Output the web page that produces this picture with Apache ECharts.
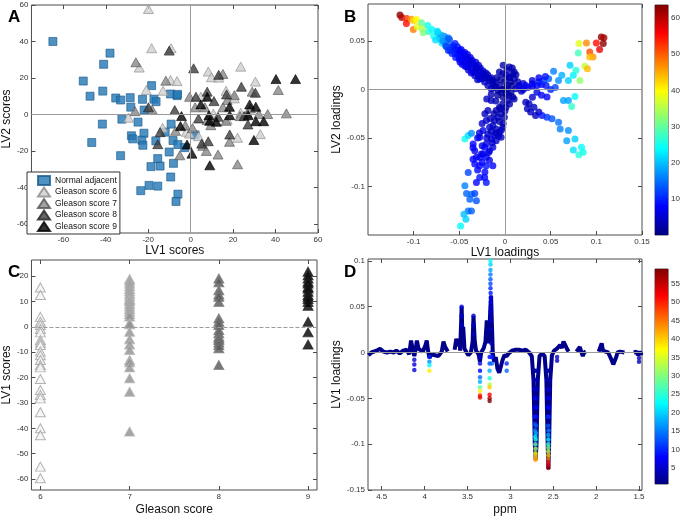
<!DOCTYPE html>
<html><head><meta charset="utf-8">
<script src="https://cdn.jsdelivr.net/npm/echarts@6/dist/echarts.min.js"></script>
<style>html,body{margin:0;padding:0;background:#fff}#c{width:683px;height:519px}</style>
</head><body><div id="c"></div><script>
// ---------- Panel A : LV1 vs LV2 scores ----------
const normalAdjacent = [[-64.9,40],[-38,33.6],[-41,27.5],[-50.6,18.3],[-41.4,12.8],[-47.4,10],[-35.3,9],[-33,7.9],[-28.5,9.2],[-22.7,8.3],[-18.4,15.8],[-17.3,8.4],[-16.3,7],[-28.2,4],[-21.9,2.4],[-9.5,11.2],[-6.4,10.3],[-6.2,11],[-32.4,-2.6],[-24.8,-4.2],[-41.6,-5.3],[-9.2,-5.3],[-27.9,-11.7],[-27.3,-13.4],[-22,-10.3],[-23,-14.1],[-22.5,-16.9],[-16.4,-14.5],[-12,-9.7],[-8.3,-14.3],[-6,-16.5],[2.1,-11.2],[-2.8,-18.2],[-10.1,-20.6],[-33,-22.6],[-46.6,-15.4],[-15.5,-24.2],[-14.4,-28.3],[-18.7,-28.6],[-8.1,-26.8],[-9.4,-34.3],[-19.6,-38.9],[-15.5,-39.3],[-23.5,-41.8],[-6,-43.7],[-6.9,-47.7]];
const gleason6A = [[-19.9,57.8],[-18.4,36.3],[-9.2,36.3],[-24.2,25.7],[-20.9,13.4],[-13,13],[-9.5,18.9],[-6.4,18.3],[-29.3,-1.8],[-13.2,-7.3],[-2,-9.5],[8.3,23.5],[9.8,20.4],[13.2,20.2],[23.6,26.2],[30.5,18],[16.7,13],[20.6,8.8],[10.7,0.5],[17.2,-2.8],[22.1,-12.8],[32.8,-10.8],[3.7,-11.9],[4.8,9.7],[23.6,0.9],[-0.5,-10.5]];
const gleason7A = [[-25.8,28.6],[-11.7,18.5],[-18.1,2.6],[-26.2,1.8],[-7.1,-9],[-5.1,-22.4],[0.9,-7.5],[-0.5,9.7],[2.1,3.9],[6.7,3.9],[7.8,-3.1],[5.7,-17.2],[7.4,-20],[12.9,-22],[22.1,-27.3],[15.2,22.2],[20.6,10.6],[17.2,7.9],[15.2,3.9],[23.3,-0.9],[26.7,0.6],[28.2,3.3],[32.1,0.2],[36.3,0.2],[41.3,13.4],[45.1,0.6],[18.3,-15],[9.5,-5.9],[16.7,-3.5],[29,12.5],[-2.5,-6]];
const gleason8A = [[-10.1,35],[1.4,25.3],[13.2,21.7],[7.8,12.5],[23.9,15.2],[30.5,11.9],[16.9,11],[-19.9,3.9],[-7.5,2.4],[-14.4,-9.7],[-15.5,-16.3],[5.2,-16],[8.3,-14.7],[3.7,-2.2],[18.4,-11],[27,-5.5],[25.2,-0.9],[12.9,-1.3],[11,7.3],[2.5,9.7]];
const gleason9A = [[40.2,19.4],[49.4,19.4],[7.8,9.7],[4.8,5.5],[27.8,5.5],[30.7,4.2],[18.3,4.2],[18.4,-0.4],[8.6,-0.4],[12.1,-4],[9,-3.5],[27.1,-0.4],[30.7,-3.7],[34.4,-3.7],[29.8,-14],[9,-27.9],[0.6,-21.5],[-1.7,-16.5],[-4.3,-0.9],[-4.8,-6.4]];
const ticksA = [-60,-40,-20,0,20,40,60];

// ---------- Panel B : LV1 vs LV2 loadings [x, y, colour value] ----------
const loadingsB = [
[-0.115,0.0766,63],[-0.113,0.0741,60],[-0.1076,0.0731,52],[-0.108,0.068,55],[-0.1025,0.0724,46],[-0.0996,0.0707,42],[-0.0968,0.0721,40],[-0.1004,0.0617,48],[-0.096,0.0645,38],[-0.0914,0.0686,30],[-0.0906,0.0628,35],[-0.0896,0.0583,32],[-0.0845,0.0659,25],[-0.0835,0.0593,27],[-0.0799,0.0617,24],[-0.078,0.0548,25],[-0.0737,0.0586,20],[-0.0719,0.0524,19],[-0.0691,0.0479,22],[-0.0665,0.0548,17],[-0.0637,0.049,15],[-0.0608,0.0514,13],[-0.0583,0.0438,12],[-0.0547,0.0472,10],[-0.0529,0.0403,9],
[-0.068,0.05,17],[-0.065,0.045,14],[-0.062,0.053,14],[-0.07,0.056,19],[-0.076,0.051,22],[-0.074,0.06,22],
[-0.0493,0.0403,8],[-0.0457,0.0369,7],[-0.0475,0.0317,7],[-0.0421,0.0334,7],[-0.0385,0.03,6],[-0.0403,0.0248,6],[-0.0349,0.0266,6],[-0.0313,0.0231,6],[-0.0331,0.0179,5],[-0.0277,0.0197,5],[-0.0241,0.0162,5],[-0.0259,0.011,5],[-0.0205,0.0121,4],[-0.0169,0.0093,4],[-0.0187,0.0041,4],[-0.0133,0.0059,4],[-0.0097,0.0024,3],[-0.0061,0.0041,3],[-0.0079,-0.001,3],[-0.0511,0.0352,8],[-0.045,0.0283,7],[-0.0367,0.0214,6],[-0.0295,0.0145,5],[-0.0223,0.0076,4],[-0.0151,0.0007,4],[-0.06,0.0403,10],[-0.0547,0.0369,9],[-0.0493,0.0283,7],[-0.0421,0.0231,6],[-0.0349,0.0179,6],[-0.0277,0.011,5],
[-0.057,0.045,10],[-0.055,0.041,9],[-0.052,0.044,9],[-0.05,0.037,8],[-0.048,0.041,8],[-0.046,0.034,7],[-0.044,0.038,7],[-0.043,0.03,7],[-0.041,0.036,7],[-0.039,0.027,6],[-0.038,0.033,6],[-0.036,0.03,6],[-0.034,0.024,6],[-0.032,0.028,6],[-0.031,0.021,5],[-0.029,0.025,5],[-0.027,0.022,5],[-0.026,0.015,5],[-0.024,0.019,5],[-0.022,0.013,4],[-0.021,0.017,4],[-0.019,0.015,4],[-0.017,0.011,4],[-0.015,0.012,4],[-0.013,0.009,3],[-0.011,0.007,3],[-0.009,0.012,3],[-0.064,0.044,12],[-0.062,0.04,11],[-0.058,0.037,10],[-0.054,0.033,9],[-0.05,0.031,8],[-0.047,0.026,7],[-0.044,0.024,7],[-0.04,0.02,6],[-0.037,0.017,6],[-0.033,0.014,5],[-0.03,0.01,5],
[-0.0061,0.0179,3],[-0.0025,0.0162,3],[0.0011,0.0145,3],[0.0047,0.0128,3],[0.0083,0.0162,3],[0.0101,0.011,3],[0.0065,0.0076,2],[0.0029,0.0041,2],[-0.0007,0.0007,2],[-0.0043,-0.0028,2],[0.0011,-0.0045,2],[0.0065,-0.0028,2],[0.0119,0.0007,3],[0.0155,0.0041,4],[0.0083,-0.0079,3],[0.0029,-0.0114,3],[-0.0025,-0.0148,3],[-0.0061,-0.0183,3],[-0.0097,-0.0217,3],[-0.0043,-0.0252,3],[-0.0079,-0.0286,4],[-0.0115,-0.0321,4],[-0.0133,-0.0372,4],[-0.0097,-0.0407,4],[-0.0061,-0.0441,4],[-0.0115,-0.0476,5],[-0.0151,-0.051,5],[-0.0097,-0.0528,5],[-0.0133,-0.0597,6],[-0.0169,-0.0631,6],[-0.0205,-0.0562,6],[-0.0187,-0.0459,5],[-0.0169,-0.039,5],[-0.0241,-0.0666,7],[-0.0277,-0.07,7],
[-0.0151,-0.0114,4],[-0.0187,-0.0217,4],[-0.0205,-0.0321,5],[-0.0241,-0.0424,6],[-0.0277,-0.0493,6],[0.0011,-0.0183,3],[-0.0007,-0.0286,3],[-0.0025,-0.039,4],[-0.0043,-0.0493,4],[0.0047,0.0231,3],[0.0101,0.0179,3],
[-0.005,0.01,2],[0.0,0.008,2],[0.005,0.012,3],[-0.003,0.0,2],[0.003,0.001,2],[0.008,0.004,2],[-0.008,-0.006,2],[-0.002,-0.008,2],[0.004,-0.006,2],[-0.01,-0.012,3],[-0.005,-0.02,3],[0.0,-0.022,3],[-0.012,-0.025,3],[-0.006,-0.033,3],[-0.002,-0.035,3],[-0.016,-0.03,4],[-0.01,-0.045,4],[-0.004,-0.042,4],[-0.015,-0.043,4],[-0.014,-0.055,5],[-0.007,-0.048,4],[-0.02,-0.05,5],[-0.018,-0.065,6],[-0.025,-0.058,6],[0.002,0.02,3],[0.008,0.022,3],[-0.002,0.025,3],[0.012,0.015,3],[0.014,0.008,3],[-0.012,0.002,3],[-0.015,-0.005,3],[-0.02,-0.01,4],[-0.022,-0.025,4],[-0.025,-0.035,5],[-0.028,-0.045,6],[0.005,-0.015,3],[0.01,-0.01,3],[0.018,-0.002,4],[0.02,0.006,5],
[0.02,0.0,5],[0.025,0.002,6],[0.03,0.003,6],[0.035,0.004,7],[0.04,0.005,8],[0.045,0.004,9],[0.035,-0.003,6],[0.04,-0.006,7],[0.05,0.0,10],[0.055,0.002,12],[0.03,-0.008,5],
[0.0155,0.0024,6],[0.0227,0.0041,7],[0.0299,0.0059,8],[0.0371,0.0076,9],[0.0424,0.0093,11],[0.0478,0.011,14],[0.0532,0.0186,16],[0.0586,0.0093,17],[0.0622,0.0145,19],[0.0694,0.0093,21],[0.0712,0.0248,21],[0.0748,0.0145,23],[0.0777,0.0197,26],[0.0802,0.0376,28],[0.082,0.0093,33],[0.0874,0.0238,36],[0.0903,0.0214,44],[0.0809,0.0472,38],[0.0892,0.0479,47],[0.0928,0.0386,51],[0.0964,0.0334,46],[0.0928,0.0334,44],[0.1,0.0479,55],[0.1036,0.041,57],[0.1054,0.0541,62],[0.1076,0.0472,63],[0.1083,0.0531,61],
[0.064,-0.0114,18],[0.0694,-0.0114,18],[0.0766,-0.0072,24],[0.073,-0.0176,27],[0.0299,0.0093,6],[0.0371,0.0121,7],[0.0442,0.0134,9],[0.046,-0.0079,8],
[0.0263,-0.0148,4],[0.0317,-0.0183,4],[0.0371,-0.0234,4],[0.0335,-0.0269,4],[0.0281,-0.0234,4],[0.0245,-0.02,4],[0.0227,-0.0131,4],
[0.0406,-0.0269,9],[0.046,-0.0286,11],[0.0514,-0.0303,13],[0.0586,-0.0338,15],[0.0604,-0.0407,16],[0.0694,-0.0424,17],[0.0676,-0.0528,18],[0.0766,-0.051,21],[0.0748,-0.0624,22],[0.0838,-0.0597,24],[0.0856,-0.0648,25],[0.0809,-0.0672,26],
[-0.0439,-0.051,25],[-0.0403,-0.0476,22],[-0.0367,-0.0452,17],[-0.0349,-0.0562,8],[-0.0331,-0.0631,7],[-0.0313,-0.07,7],[-0.0331,-0.0769,8],[-0.0277,-0.0786,8],[-0.0205,-0.07,7],[-0.0205,-0.0786,9],[-0.0133,-0.0786,8],[-0.0223,-0.0597,8],[-0.0259,-0.0666,7],[-0.0403,-0.0855,12],[-0.0313,-0.0959,8],[-0.0277,-0.0907,9],[-0.0223,-0.0907,8],[-0.0205,-0.0959,9],[-0.0439,-0.0993,16],[-0.0421,-0.1072,14],[-0.0367,-0.1079,15],[-0.0331,-0.1072,12],[-0.0385,-0.1131,14],[-0.0313,-0.1148,13],[-0.0403,-0.1252,15],[-0.0367,-0.1252,14],[-0.045,-0.1286,20],[-0.0428,-0.1338,21],[-0.0486,-0.1407,24],
[-0.03,-0.05,7],[-0.035,-0.06,8],[-0.025,-0.075,8],[-0.03,-0.083,8],[-0.022,-0.085,8],[-0.017,-0.073,7],[-0.035,-0.072,8]
];
const labelsB = [
  {name:'Citrate', value:[-0.131,0.0652]},{name:'Cho', value:[0.0862,0.058]},{name:'GPC', value:[0.1255,0.0538]},
  {name:'Glycine', value:[0.1037,-0.0093]},{name:'Creatine', value:[-0.0622,-0.058]},{name:'PCho', value:[0.0961,-0.0766]},
  {name:'Taurine', value:[-0.072,-0.1439]}
];
const ticksBx = [-0.1,-0.05,0,0.05,0.1,0.15];
const ticksBy = [-0.1,-0.05,0,0.05];
const colorbarBTicks = [10,20,30,40,50,60];

// ---------- Panel C : LV1 scores by Gleason score ----------
const gleasonCats = [6,7,8,9];
const lv1Score6 = [15.5,12.5,3.9,2,0.7,-0.9,-2.2,-5.2,-6.2,-7.2,-9.8,-11.2,-13.1,-15.1,-16,-20.6,-24.9,-26.9,-28.2,-33.7,-40,-42.7,-55.1,-59.7];
const lv1Score7 = [18.8,18,17,16,15,14,13,12,11,10.5,10,9,8,7,6,5,4,1.5,1,-2,-4.9,-7,-9.2,-13.1,-14,-16,-20.3,-25.6,-41.3];
const lv1Score8 = [19,17.5,14.4,12.7,11.8,9.8,3.3,2,0.7,-1.3,-2.6,-3.9,-4.6,-5.2,-6.2,-7.2,-8.5,-15.1];
const lv1Score9 = [21.7,20.3,19,17.7,17,15.7,15.1,13.8,12.5,11.8,10.9,9.8,8.3,2,-2.2,-7];
const ticksCy = [-60,-50,-40,-30,-20,-10,0,10,20];

// ---------- Panel D : LV1 loadings vs ppm ----------
const dBaselineSegs = [
 [[4.655,-0.003],[4.62,0.0],[4.597,0.001],[4.56,0.002],[4.52,0.004],[4.48,0.001],[4.44,0.0],[4.40,0.001],[4.36,0.0],[4.33,0.002],[4.29,-0.001],[4.25,0.002],[4.21,0.003],[4.18,-0.002],[4.158,0.013],[4.14,0.004],[4.12,-0.004],[4.10,0.006],[4.09,0.013],[4.07,0.004],[4.05,0.002],[4.02,0.001],[3.99,0.008],[3.975,0.013],[3.96,0.002],[3.944,-0.006],[3.92,-0.002],[3.88,-0.003],[3.84,-0.004],[3.80,0.001],[3.78,0.012],[3.76,0.006],[3.73,0.001]],
 [[3.65,0.003],[3.63,0.015],[3.61,0.007],[3.595,0.012],[3.585,0.002],[3.568,0.05],[3.56,0.02],[3.55,0.028],[3.535,0.004],[3.51,0.0],[3.49,-0.003],[3.46,0.0],[3.44,0.012],[3.43,0.04],[3.415,0.012],[3.40,0.002],[3.37,-0.002],[3.355,-0.01],[3.34,0.0],[3.31,0.005],[3.29,0.012],[3.275,0.035],[3.26,0.01],[3.245,0.02],[3.235,0.045],[3.225,0.062],[3.215,0.03],[3.205,0.0],[3.19,-0.01],[3.17,-0.005],[3.15,-0.018],[3.13,-0.022],[3.11,-0.02],[3.09,-0.008],[3.07,-0.003],[3.045,-0.004],[3.02,-0.001],[2.98,0.002],[2.94,0.003],[2.90,0.003],[2.86,0.002],[2.82,0.003],[2.78,0.0],[2.75,-0.004],[2.73,-0.03],[2.715,-0.1],[2.705,-0.117],[2.695,-0.1],[2.68,-0.03],[2.66,-0.004],[2.63,-0.001],[2.60,-0.004],[2.58,-0.03],[2.565,-0.1],[2.557,-0.127],[2.548,-0.1],[2.535,-0.03],[2.515,-0.003],[2.49,0.002],[2.46,0.004],[2.44,0.003],[2.42,0.008],[2.40,0.005],[2.38,0.012],[2.36,0.008],[2.34,0.004],[2.32,0.001]],
 [[2.23,0.001],[2.21,0.003],[2.19,0.006],[2.17,0.0],[2.155,-0.004],[2.14,0.0],[2.12,0.001]],
 [[1.97,0.001],[1.95,0.002],[1.935,0.01],[1.92,0.002],[1.89,0.001],[1.86,0.0],[1.84,-0.002],[1.82,-0.008],[1.80,-0.013],[1.78,-0.012],[1.765,-0.005],[1.75,0.0],[1.72,0.001],[1.70,0.0],[1.67,0.0]],
 [[1.56,0.0],[1.53,0.001],[1.51,-0.003],[1.49,0.001],[1.47,-0.003]]
];
const dPoints = [
 [2.715,-0.02,3],[2.70,-0.02,3],[2.715,-0.03,4],[2.70,-0.03,4],[2.715,-0.04,5],[2.70,-0.04,5],[2.715,-0.05,6],[2.70,-0.05,6],[2.715,-0.06,7],[2.70,-0.06,7],[2.715,-0.07,9],[2.70,-0.07,9],[2.713,-0.078,12],[2.702,-0.08,13],[2.712,-0.085,16],[2.703,-0.088,18],[2.71,-0.092,22],[2.705,-0.095,24],[2.708,-0.1,28],[2.706,-0.105,32],[2.707,-0.11,37],[2.706,-0.113,40],[2.707,-0.116,42],[2.706,-0.117,43],
 [2.565,-0.02,3],[2.55,-0.02,3],[2.565,-0.03,4],[2.55,-0.03,4],[2.565,-0.04,5],[2.55,-0.04,5],[2.565,-0.05,6],[2.55,-0.05,6],[2.563,-0.06,8],[2.552,-0.06,8],[2.562,-0.07,10],[2.553,-0.07,10],[2.56,-0.08,13],[2.555,-0.085,15],[2.558,-0.09,18],[2.557,-0.095,22],[2.558,-0.1,26],[2.557,-0.104,30],[2.558,-0.108,34],[2.557,-0.112,40],[2.558,-0.116,45],[2.557,-0.12,50],[2.558,-0.123,54],[2.557,-0.126,57],
 [3.242,-0.005,8],[3.242,-0.012,12],[3.242,-0.02,18],[3.242,-0.028,24],[3.242,-0.035,33],[3.242,-0.038,40],[3.242,-0.046,52],[3.242,-0.05,56],[3.242,-0.053,59],
 [3.354,-0.005,5],[3.354,-0.012,6],[3.354,-0.02,8],[3.354,-0.027,14],[3.354,-0.032,18],[3.354,-0.038,28],[3.354,-0.042,38],[3.354,-0.047,50],[3.354,-0.049,53],
 [3.232,0.1,22],[3.232,0.096,20],[3.232,0.09,17],[3.232,0.085,15],[3.232,0.08,13],[3.232,0.075,12],[3.232,0.07,10],[3.23,0.065,9],[3.228,0.06,8],[3.228,0.055,7],[3.228,0.05,6],[3.228,0.045,6],[3.228,0.04,5],[3.228,0.035,5],[3.225,0.025,4],[3.222,0.01,4],[3.22,0.0,5],[3.215,-0.005,10],[3.215,-0.012,14],
 [3.944,-0.005,10],[3.944,-0.01,16],[3.944,-0.014,22],[3.944,-0.02,38],
 [4.12,-0.008,5],[4.12,-0.013,6],[4.12,-0.019,6],
 [3.043,-0.012,10],[3.043,-0.02,14],
 [3.568,0.03,5],[3.568,0.04,5],[3.568,0.05,6],[3.43,0.02,4],[3.43,0.03,5],[3.43,0.04,5],
 [2.455,-0.005,5],[2.455,-0.009,5],[1.5,-0.006,4],[1.5,-0.01,4]
];
const labelsD = [
  {name:'PCho', value:[3.054,0.0935]},{name:'Cho', value:[3.078,0.0633]},{name:'s-Ino', value:[3.416,-0.0556]},
  {name:'GPC', value:[3.229,-0.0709]},{name:'Citrate', value:[2.634,-0.1375]}
];
const ticksDx = [1.5,2,2.5,3,3.5,4,4.5];
const ticksDy = [-0.15,-0.1,-0.05,0,0.05,0.1];
const colorbarDTicks = [5,10,15,20,25,30,35,40,45,50,55];

// ---------- build ----------
const jet = ['#00007F','#0000FF','#007FFF','#00FFFF','#7FFF7F','#FFFF00','#FF7F00','#FF0000','#7F0000'];
const FONT = '"Liberation Sans", Arial, sans-serif';
const grids = [], xAxes = [], yAxes = [], series = [];
const tickColor = '#4d4d4d';

function addGrid(g, xc, yc) {
  const gi = grids.length;
  grids.push(Object.assign({show:true, borderColor:tickColor, borderWidth:1, backgroundColor:'#fff'}, g));
  const common = (c) => ({
    gridIndex: gi, type: c.type || 'value', min: c.min, max: c.max, inverse: !!c.inverse, data: c.data,
    splitLine:{show:false}, axisLine:{show:false, onZero:false},
    axisTick:{show: c.ticks !== undefined, inside:true, length:4, lineStyle:{color:tickColor}, customValues: c.ticks},
    nameLocation:'middle', nameTextStyle:{fontSize:12, color:'#111', fontFamily:FONT}
  });
  const xi = xAxes.length;
  xAxes.push(Object.assign(common(xc), {position:'bottom', name:xc.name, nameGap:xc.nameGap,
    axisLabel:{show: xc.ticks !== undefined, customValues: xc.ticks, fontSize:8, color:'#333', fontFamily:FONT, margin:3}}));
  xAxes.push(Object.assign(common(xc), {position:'top', axisLabel:{show:false}}));
  const yi = yAxes.length;
  yAxes.push(Object.assign(common(yc), {position: yc.right ? 'right' : 'left', name:yc.name, nameGap:yc.nameGap,
    axisLabel:{show: yc.ticks !== undefined, customValues: yc.ticks, fontSize:8, color:'#333', fontFamily:FONT, margin:3}}));
  yAxes.push(Object.assign(common(yc), {position: yc.right ? 'left' : 'right', axisLabel:{show:false}}));
  return {x: xi, y: yi};
}

const zeroLine = (dataArr, type) => ({silent:true, symbol:'none', label:{show:false}, animation:false,
  lineStyle:{color:'#9a9a9a', width:1, type: type || 'solid'}, emphasis:{disabled:true}, data: dataArr});

// Panel A
const gA = addGrid({left:27, top:5, width:291, height:228},
  {min:-75, max:60, ticks:ticksA, name:'LV1 scores', nameGap:10},
  {min:-65, max:60, ticks:ticksA, name:'LV2 scores', nameGap:7});
const triStyle = (fill, border) => ({color:fill, borderColor:border, borderWidth:0.8});
series.push({type:'scatter', name:'Normal adjacent', xAxisIndex:gA.x, yAxisIndex:gA.y, symbol:'rect', symbolSize:8,
  itemStyle:{color:'#2277b5', borderColor:'#1a5a8a', borderWidth:0.8}, data:normalAdjacent, z:3,
  markLine: zeroLine([{xAxis:0},{yAxis:0}])});
[['Gleason score 6', gleason6A, '#d0d0d0', '#8a8a8a'], ['Gleason score 7', gleason7A, '#8a8a8a', '#555555'],
 ['Gleason score 8', gleason8A, '#3d3d3d', '#222222'], ['Gleason score 9', gleason9A, '#000000', '#000000']]
 .forEach(([n, d, f, b]) => series.push({type:'scatter', name:n, xAxisIndex:gA.x, yAxisIndex:gA.y, symbol:'triangle',
   symbolSize:[10,9], itemStyle:triStyle(f,b), data:d, z:3}));

// Panel B
const gB = addGrid({left:368, top:4, width:274, height:231},
  {min:-0.15, max:0.15, ticks:ticksBx, name:'LV1 loadings', nameGap:8},
  {min:-0.15, max:0.088, ticks:ticksBy, name:'LV2 loadings', nameGap:12});
const idxB = series.length;
series.push({type:'scatter', xAxisIndex:gB.x, yAxisIndex:gB.y, symbolSize:7, data:loadingsB, z:3,
  markLine: zeroLine([{xAxis:0},{yAxis:0}])});
series.push({type:'scatter', xAxisIndex:gB.x, yAxisIndex:gB.y, symbolSize:1, itemStyle:{opacity:0}, silent:true, z:5,
  label:{show:true, position:'inside', formatter:'{b}', fontSize:11, color:'#111', fontFamily:FONT}, data:labelsB});

// Colorbar B
const jetGrad = () => new echarts.graphic.LinearGradient(0,1,0,0, jet.map((c,i)=>({offset:i/(jet.length-1), color:c})));
const gBc = addGrid({left:655, top:5, width:15, height:230},
  {type:'category', data:['']},
  {min:0, max:63.6, ticks:colorbarBTicks, right:true});
series.push({type:'bar', xAxisIndex:gBc.x, yAxisIndex:gBc.y, barWidth:'100%', clip:true, silent:true,
  itemStyle:{color:jetGrad()}, data:[63.6]});

// Panel C
const gC = addGrid({left:28, top:260, width:289, height:230},
  {min:5.9, max:9.1, ticks:gleasonCats, name:'Gleason score', nameGap:14},
  {min:-64.3, max:26.3, ticks:ticksCy, name:'LV1 scores', nameGap:7});
[[6, lv1Score6, '#f4f4f4', '#a0a0a0'], [7, lv1Score7, '#8f8f8f', '#b5b5b5'],
 [8, lv1Score8, '#555555', '#7a7a7a'], [9, lv1Score9, '#000000', '#222222']]
 .forEach(([g, vals, f, b], i) => series.push({type:'scatter', xAxisIndex:gC.x, yAxisIndex:gC.y, symbol:'triangle',
   symbolSize:[10,9], itemStyle:{color:f, borderColor:b, borderWidth:1}, data: vals.map(v => [g, v]), z:3,
   markLine: i === 0 ? zeroLine([{yAxis:0}], 'dashed') : undefined}));

// Panel D
const gD = addGrid({left:368, top:259, width:274, height:231},
  {min:1.465, max:4.66, inverse:true, ticks:ticksDx, name:'ppm', nameGap:14},
  {min:-0.15, max:0.102, ticks:ticksDy, name:'LV1 loadings', nameGap:12});
dBaselineSegs.forEach((seg, i) => series.push({type:'line', xAxisIndex:gD.x, yAxisIndex:gD.y, showSymbol:false, silent:true,
  lineStyle:{color:'#00008B', width:4}, data:seg, z:2,
  markLine: i === 0 ? zeroLine([{yAxis:0}]) : undefined}));
const idxD = series.length;
series.push({type:'scatter', xAxisIndex:gD.x, yAxisIndex:gD.y, symbolSize:4.5, data:dPoints, z:3});
series.push({type:'scatter', xAxisIndex:gD.x, yAxisIndex:gD.y, symbolSize:1, itemStyle:{opacity:0}, silent:true, z:5,
  label:{show:true, position:'inside', formatter:'{b}', fontSize:11, color:'#111', fontFamily:FONT}, data:labelsD});

// Colorbar D
const gDc = addGrid({left:655, top:269, width:15, height:215},
  {type:'category', data:['']},
  {min:0.6, max:59, ticks:colorbarDTicks, right:true});
series.push({type:'bar', xAxisIndex:gDc.x, yAxisIndex:gDc.y, barWidth:'100%', clip:true, silent:true,
  itemStyle:{color:jetGrad()}, data:[59]});

const chart = echarts.init(document.getElementById('c'));
chart.setOption({
  animation:false,
  textStyle:{fontFamily:FONT},
  title:[
    {text:'A', left:3, top:4, textStyle:{fontSize:17, fontWeight:'bold', color:'#000', fontFamily:FONT}},
    {text:'B', left:339, top:4, textStyle:{fontSize:17, fontWeight:'bold', color:'#000', fontFamily:FONT}},
    {text:'C', left:3, top:259, textStyle:{fontSize:17, fontWeight:'bold', color:'#000', fontFamily:FONT}},
    {text:'D', left:339, top:259, textStyle:{fontSize:17, fontWeight:'bold', color:'#000', fontFamily:FONT}}
  ],
  legend:{data:['Normal adjacent','Gleason score 6','Gleason score 7','Gleason score 8','Gleason score 9'],
    orient:'vertical', left:27, top:172, itemWidth:12, itemHeight:9, itemGap:0.5, padding:[3,3,2,10],
    borderColor:'#333', borderWidth:1, backgroundColor:'#fff', selectedMode:false,
    textStyle:{fontSize:8.5, lineHeight:10, color:'#111', fontFamily:FONT}},
  visualMap:[
    {type:'continuous', show:false, seriesIndex:idxB, dimension:2, min:0, max:63.6, inRange:{color:jet}},
    {type:'continuous', show:false, seriesIndex:idxD, dimension:2, min:0.6, max:59, inRange:{color:jet}}
  ],
  grid:grids, xAxis:xAxes, yAxis:yAxes, series:series
});
</script></body></html>
